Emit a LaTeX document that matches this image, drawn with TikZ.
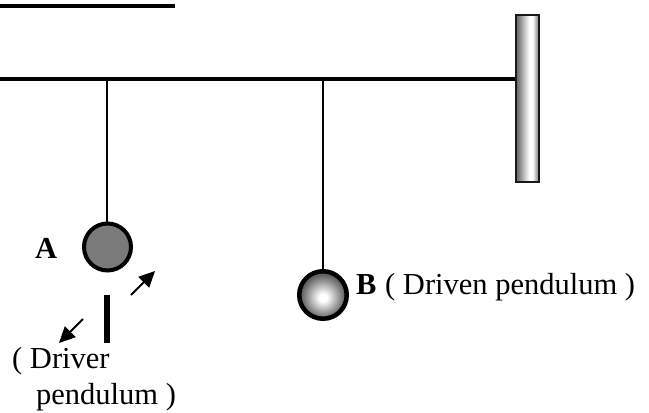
\documentclass[tikz,border=0pt]{standalone}
\usepackage{fontspec}
\setmainfont{Liberation Serif}
\usetikzlibrary{arrows.meta}
\pgfdeclarehorizontalshading{wallshade}{100bp}{
  color(0bp)=(black!60);
  color(25bp)=(black!60);
  color(31bp)=(black!50);
  color(42bp)=(black!25);
  color(54bp)=(white);
  color(61bp)=(white);
  color(75bp)=(black!55);
  color(100bp)=(black!55)}
\pgfdeclareradialshading{ballshade}{\pgfpoint{0bp}{-3bp}}{
  color(0bp)=(white);
  color(4bp)=(white);
  color(23bp)=(black!62);
  color(50bp)=(black!62)}
\tikzset{
  x=1pt,y=-1pt,
  rodline/.style={line width=4pt},
  stringline/.style={line width=1.5pt},
  ballA/.style={circle,draw=black,line width=4pt,fill=black!52,minimum size=47pt,inner sep=0pt},
  ballB/.style={circle,draw=black,line width=4.5pt,shading=ballshade,minimum size=47.5pt,inner sep=0pt},
  swing/.style={line width=2pt,-{Triangle[length=16pt,width=15pt]}},
  lbl/.style={font=\fontsize{30.5}{32}\selectfont,inner sep=0pt,anchor=base west},
  blbl/.style={font=\fontsize{30.5}{32}\selectfont\bfseries,inner sep=0pt,anchor=base west},
}
\begin{document}
\begin{tikzpicture}
\useasboundingbox (0,0) rectangle (649,413);
\fill (0,4) rectangle (175,8);
\node[draw=black!90,line width=2pt,minimum width=23pt,minimum height=167pt,inner sep=0pt,shading=wallshade,anchor=north west,outer sep=0pt] (wall) at (516,15) {};
\coordinate (rodL) at (0,79);
\coordinate (rodR) at (515,79);
\coordinate (hA) at (107,79);
\coordinate (hB) at (323,79);
\draw[rodline] (rodL) -- (rodR);
\node[ballA] (A) at (107.5,247) {};
\node[ballB] (B) at (323,295) {};
\draw[stringline] (hA) -- (hA |- A.north);
\draw[stringline] (hB) -- (hB |- B.north);
\fill (104,295) rectangle (110,343);
\coordinate (u1) at (131,295);
\coordinate (u2) at (155,271);
\coordinate (d1) at (83,319);
\coordinate (d2) at (59,343);
\draw[swing] (u1) -- (u2);
\draw[swing] (d1) -- (d2);
\node[blbl] (la) at (35,258) {A};
\node[blbl] (lb) at (356,294) {B};
\node[lbl] (lc) at (385,294) {( Driven pendulum )};
\node[lbl] (ld) at (12,368) {( Driver};
\node[lbl] (le) at (36,404) {pendulum )};
\end{tikzpicture}
\end{document}
